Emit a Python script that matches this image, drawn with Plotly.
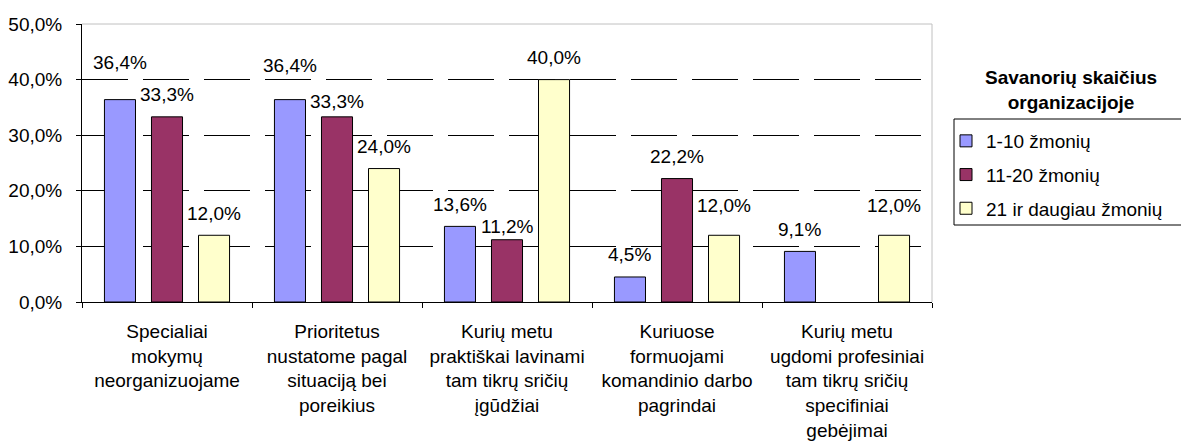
import plotly.graph_objects as go

categories = [
    "Specialiai<br>mokymų<br>neorganizuojame",
    "Prioritetus<br>nustatome pagal<br>situaciją bei<br>poreikius",
    "Kurių metu<br>praktiškai lavinami<br>tam tikrų sričių<br>įgūdžiai",
    "Kuriuose<br>formuojami<br>komandinio darbo<br>pagrindai",
    "Kurių metu<br>ugdomi profesiniai<br>tam tikrų sričių<br>specifiniai<br>gebėjimai",
]
series_names = ["1-10 žmonių", "11-20 žmonių", "21 ir daugiau žmonių"]
vals_1_10 = [0.364, 0.364, 0.136, 0.045, 0.091]
vals_11_20 = [0.333, 0.333, 0.112, 0.222, None]
vals_21 = [0.120, 0.240, 0.400, 0.120, 0.120]
y_ticks = [0, 0.1, 0.2, 0.3, 0.4, 0.5]

colors = ["#9999FF", "#993366", "#FFFFCC"]
# label lift above bar top (px); None = no label
label_lift = [
    [37, 34, 22, 22, 22],
    [22, 15, 13, 22, None],
    [22, 22, 22, 30, 30],
]

FONT = "Liberation Sans, Arial, sans-serif"
FS = 19

# page body has an 8px default margin: figure spans window px 8..1189
W, H = 1181, 435
ML, MT, MR, MB = 74, 16, 257, 141
PW, PH = W - ML - MR, H - MT - MB  # 850 x 278


def px_x(wx):  # window x -> paper fraction
    return (wx - 8 - ML) / PW


def px_y(wy):  # window y -> paper fraction
    return (H - MB - (wy - 8)) / PH


fig = go.Figure()
all_vals = [vals_1_10, vals_11_20, vals_21]
for i, (name, vals) in enumerate(zip(series_names, all_vals)):
    fig.add_trace(go.Bar(
        x=categories, y=vals, name=name, legendgroup=name,
        marker=dict(color=colors[i], line=dict(color="black", width=1)),
    ))

annotations = []
slot = PW / 5 * (1 - 0.17) / 3
for i, vals in enumerate(all_vals):
    for j, v in enumerate(vals):
        lift = label_lift[i][j]
        if lift is None or v is None:
            continue
        annotations.append(dict(
            x=categories[j], y=v, xref="x", yref="y",
            text=f"{v * 100:.1f}".replace(".", ",") + "%",
            showarrow=False, xshift=(i - 1) * slot, yshift=lift,
            yanchor="middle", xanchor="center",
            font=dict(family=FONT, size=FS, color="black"),
        ))

annotations.append(dict(
    x=px_x(1071), y=px_y(90.5), xref="paper", yref="paper",
    text="<b>Savanorių skaičius<br>organizacijoje</b>",
    showarrow=False, xanchor="center", yanchor="middle",
    font=dict(family=FONT, size=FS, color="black"),
))

fig.update_layout(
    width=W, height=H,
    margin=dict(l=ML, r=MR, t=MT, b=MB, autoexpand=False),
    paper_bgcolor="white", plot_bgcolor="white",
    barmode="group", bargap=0.17, bargroupgap=0.34,
    separators=",.",
    font=dict(family=FONT, size=FS, color="black"),
    showlegend=True,
    legend=dict(
        x=px_x(946), y=px_y(122), xanchor="left", yanchor="top",
        bgcolor="rgba(0,0,0,0)", borderwidth=0,
        traceorder="grouped", tracegroupgap=6,
        font=dict(family=FONT, size=FS, color="black"),
    ),
    annotations=annotations,
    shapes=[
        dict(type="line", xref="paper", yref="paper", x0=0, x1=1, y0=1, y1=1,
             line=dict(color="#C0C0C0", width=1)),
        dict(type="line", xref="paper", yref="paper", x0=1, x1=1, y0=0, y1=1,
             line=dict(color="#C0C0C0", width=1)),
        dict(type="rect", xref="paper", yref="paper",
             x0=px_x(954), x1=px_x(1300), y0=px_y(225), y1=px_y(119),
             line=dict(color="black", width=1)),
    ],
)

fig.update_xaxes(
    type="category", showline=True, linecolor="black", linewidth=1,
    ticks="outside", tickson="boundaries", ticklen=5, tickcolor="black",
    ticklabelstandoff=12,
    showgrid=False, tickfont=dict(family=FONT, size=FS, color="black"),
)
fig.update_yaxes(
    range=[0, 0.5], tickvals=y_ticks, tickformat=".1%",
    showline=True, linecolor="black", linewidth=1,
    ticks="outside", ticklen=5, tickcolor="black", ticklabelstandoff=10,
    showgrid=True, gridcolor="black", gridwidth=1, griddash="46px,15px",
    zeroline=False, tickfont=dict(family=FONT, size=FS, color="black"),
)

fig.write_html("out.html")
